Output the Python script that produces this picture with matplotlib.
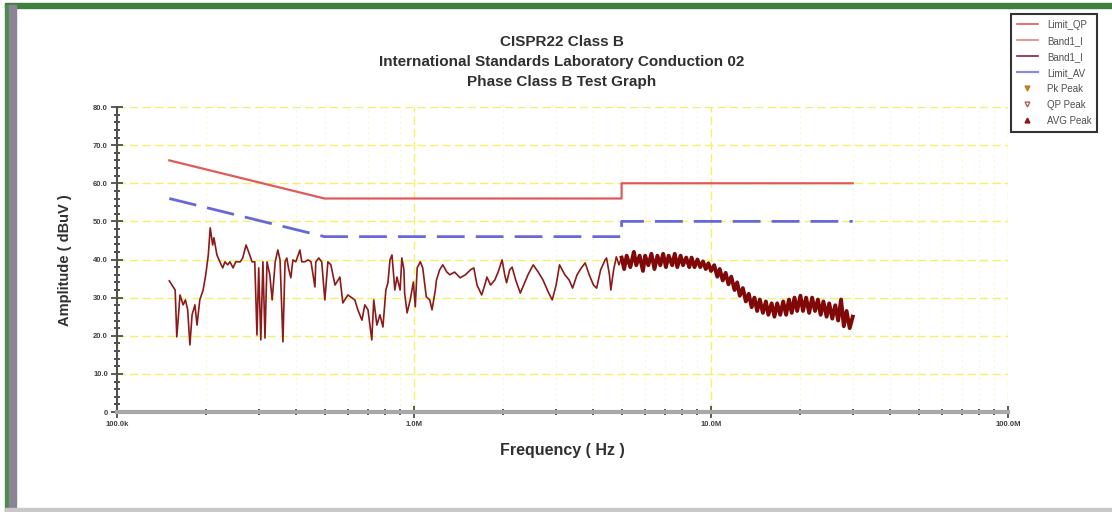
import matplotlib
matplotlib.use("Agg")
import matplotlib.pyplot as plt
from matplotlib.lines import Line2D
from matplotlib.patches import Rectangle
from matplotlib.ticker import MultipleLocator, LogLocator, NullFormatter

plt.rcParams['font.family'] = ['Liberation Sans', 'DejaVu Sans']

# limit lines (MHz, dBuV)
qp_freq = [0.15, 0.5, 5.0, 5.0, 30.0]
qp_level = [66, 56, 56, 60, 60]
av_freq = [0.15, 0.5, 5.0, 5.0, 30.0]
av_level = [56, 46, 46, 50, 50]

scan_freq = [
    0.150, 0.157, 0.159, 0.163, 0.167, 0.170, 0.173, 0.176, 0.179, 0.183,
    0.186, 0.190, 0.195, 0.199, 0.203, 0.206, 0.210, 0.212, 0.217, 0.222,
    0.227, 0.231, 0.236, 0.240, 0.246, 0.251, 0.260, 0.265, 0.272, 0.276,
    0.285, 0.291, 0.296, 0.300, 0.305, 0.310, 0.315, 0.320, 0.327, 0.333,
    0.341, 0.348, 0.354, 0.362, 0.368, 0.373, 0.379, 0.385, 0.391, 0.400,
    0.413, 0.419, 0.429, 0.440, 0.450, 0.457, 0.464, 0.467, 0.478, 0.489,
    0.501, 0.513, 0.525, 0.542, 0.563, 0.576, 0.599, 0.632, 0.647, 0.668,
    0.683, 0.700, 0.721, 0.732, 0.750, 0.768, 0.786, 0.804, 0.817, 0.830,
    0.843, 0.862, 0.876, 0.898, 0.910, 0.925, 0.930, 0.948, 0.971, 0.995,
    1.01, 1.025, 1.05, 1.07, 1.10, 1.13, 1.15, 1.18, 1.19, 1.22,
    1.25, 1.29, 1.32, 1.37, 1.43, 1.49, 1.55, 1.59, 1.63, 1.69,
    1.74, 1.76, 1.81, 1.87, 1.92, 1.98, 2.02, 2.05, 2.10, 2.14,
    2.20, 2.28, 2.34, 2.42, 2.52, 2.62, 2.72, 2.83, 2.92, 3.01,
    3.09, 3.22, 3.33, 3.42, 3.54, 3.66, 3.77, 3.89, 4.02, 4.12,
    4.25, 4.40, 4.45, 4.55, 4.60, 4.70, 4.80, 4.90,
    5.0, 5.1, 5.2, 5.35, 5.5, 5.6, 5.75, 5.9, 6.0, 6.15,
    6.3, 6.45, 6.6, 6.75, 6.9, 7.05, 7.2, 7.4, 7.55, 7.7,
    7.9, 8.05, 8.25, 8.45, 8.6, 8.8, 9.0, 9.2, 9.4, 9.6,
    9.8, 10.0, 10.25, 10.5, 10.7, 10.95, 11.2, 11.45, 11.7, 12.0,
    12.25, 12.5, 12.8, 13.1, 13.4, 13.7, 14.0, 14.3, 14.6, 14.95,
    15.3, 15.6, 16.0, 16.35, 16.7, 17.1, 17.5, 17.9, 18.3, 18.7,
    19.1, 19.5, 20.0, 20.4, 20.9, 21.4, 21.9, 22.4, 22.9, 23.4,
    23.9, 24.5, 25.0, 25.6, 26.2, 26.8, 27.4, 28.0, 28.6, 29.3,
    30.0,
]
scan_level = [
    34.4, 32.0, 19.7, 30.7, 28.1, 29.4, 26.8, 17.6, 25.5, 28.1,
    22.8, 29.4, 32.0, 36.0, 41.2, 48.3, 43.8, 45.7, 41.2, 39.4,
    37.8, 39.4, 38.6, 39.4, 37.8, 39.4, 39.4, 40.4, 43.8, 42.5,
    39.4, 39.4, 20.2, 37.8, 18.9, 39.4, 19.4, 39.4, 36.0, 29.4,
    39.4, 42.5, 39.9, 18.4, 39.4, 40.4, 37.3, 35.2, 39.9, 39.4,
    42.5, 39.4, 39.4, 39.9, 39.4, 36.0, 32.8, 39.4, 40.4, 39.4,
    29.4, 39.4, 38.6, 33.3, 35.4, 28.6, 30.7, 29.4, 26.8, 24.1,
    28.1, 26.8, 18.9, 29.4, 22.8, 25.5, 22.3, 32.0, 33.9, 39.9,
    41.2, 32.0, 35.4, 32.0, 40.4, 37.3, 31.2, 26.0, 29.4, 34.1,
    27.6, 37.8, 39.4, 37.8, 30.2, 29.4, 26.8, 32.0, 34.6, 37.3,
    38.6, 36.7, 36.0, 36.7, 35.2, 36.0, 37.3, 37.8, 33.3, 30.7,
    33.9, 35.4, 33.3, 34.6, 36.7, 39.9, 36.0, 33.9, 37.3, 38.0,
    34.6, 31.2, 33.3, 36.0, 38.6, 36.7, 34.6, 31.5, 29.4, 33.3,
    38.6, 36.0, 34.6, 32.5, 36.0, 37.8, 39.1, 36.0, 33.3, 32.5,
    37.3, 39.9, 40.4, 36.0, 32.0, 37.3, 40.7, 38.6,
    40.5, 37.5, 41.0, 38.0, 42.0, 38.5, 41.0, 37.0, 41.0, 38.5,
    41.5, 37.5, 41.0, 38.5, 41.5, 38.0, 41.0, 38.5, 41.5, 38.0,
    41.0, 38.5, 40.5, 38.0, 40.5, 38.0, 40.0, 38.0, 39.5, 37.5,
    39.0, 37.0, 38.5, 35.5, 37.5, 34.5, 36.5, 33.5, 35.5, 32.0,
    34.0, 30.5, 32.5, 29.0, 31.0, 27.5, 30.0, 26.5, 29.5, 26.0,
    29.0, 25.5, 28.5, 25.0, 28.5, 25.5, 29.0, 25.5, 29.5, 26.0,
    30.0, 26.5, 30.5, 26.5, 30.0, 26.0, 30.0, 26.5, 29.5, 25.5,
    29.0, 25.0, 28.5, 24.5, 28.0, 24.0, 29.5, 22.5, 26.5, 22.0,
    25.0,
]

x_ticks = [0.1, 1, 10, 100]
x_ticklabels = ['100.0k', '1.0M', '10.0M', '100.0M']
y_ticks = [0, 10, 20, 30, 40, 50, 60, 70, 80]
y_ticklabels = ['0', '10.0', '20.0', '30.0', '40.0', '50.0', '60.0', '70.0', '80.0']

title_lines = ['CISPR22 Class B',
               'International Standards Laboratory Conduction 02',
               'Phase Class B Test Graph']

fig = plt.figure(figsize=(11.12, 5.12), dpi=100)
fig.patch.set_facecolor('white')

# window frame
fig.patches.append(Rectangle((0.0045, 0.984), 0.996, 0.0095, transform=fig.transFigure,
                             color='#3f7f3f', zorder=0))
fig.patches.append(Rectangle((0.0045, 0.0), 0.0035, 0.99, transform=fig.transFigure,
                             color='#4f8a4f', zorder=0))
fig.patches.append(Rectangle((0.008, 0.0), 0.006, 0.99, transform=fig.transFigure,
                             color='#8a8494', zorder=0))
fig.patches.append(Rectangle((0.0045, 0.0), 0.996, 0.007, transform=fig.transFigure,
                             color='#c8c8c8', zorder=0))

ax = fig.add_axes([0.1052, 0.1953, 0.8013, 0.5957])
ax.set_xscale('log')
ax.set_xlim(0.1, 100)
ax.set_ylim(0, 80)

ax.grid(which='major', color='#f2f26a', linestyle=(0, (6, 3)), linewidth=1.0)
ax.grid(which='minor', axis='x', color='#f8f8d8', linestyle=(0, (2, 3)), linewidth=0.8)
ax.set_axisbelow(True)

ax.plot(qp_freq, qp_level, color='#e05a5a', lw=1.6, zorder=3)
ax.plot(av_freq, av_level, color='#6868d8', lw=2.0, dashes=(10, 4), zorder=3)

# low band: thin trace, above 5 MHz the scan is a dense band
split = scan_freq.index(5.0)
ax.plot(scan_freq[:split + 1], scan_level[:split + 1], color='#8b1a1a', lw=1.2, zorder=4)
ax.plot(scan_freq[split:], scan_level[split:], color='#800808', lw=2.8, zorder=4,
        solid_joinstyle='round')

for s in ['top', 'right']:
    ax.spines[s].set_visible(False)
ax.spines['bottom'].set_color('#a8a8a8')
ax.spines['bottom'].set_linewidth(3)
ax.spines['left'].set_color('#505050')
ax.spines['left'].set_linewidth(1.5)

ax.set_xticks(x_ticks)
ax.set_xticklabels(x_ticklabels)
ax.xaxis.set_minor_locator(LogLocator(base=10, subs=range(2, 10)))
ax.xaxis.set_minor_formatter(NullFormatter())
ax.set_yticks(y_ticks)
ax.set_yticklabels(y_ticklabels)
ax.yaxis.set_minor_locator(MultipleLocator(2))

ax.tick_params(axis='both', which='major', direction='inout', length=9, width=1.2,
               colors='#404040', labelsize=5.5, pad=2)
ax.tick_params(axis='both', which='minor', direction='inout', length=5, width=1.4,
               colors='#505050')
for lab in ax.get_xticklabels() + ax.get_yticklabels():
    lab.set_fontweight('bold')

for i, line in enumerate(title_lines):
    fig.text(0.505, 1 - (42 + 20 * i) / 512, line, ha='center', va='center',
             fontsize=11, fontweight='bold', color='#303030')

fig.text(65 / 1112, 1 - 260 / 512, 'Amplitude ( dBuV )', rotation=90, ha='center',
         va='center', fontsize=10.5, fontweight='bold', color='#303030')
fig.text(562 / 1112, 1 - 450 / 512, 'Frequency ( Hz )', ha='center', va='center',
         fontsize=11.5, fontweight='bold', color='#303030')

handles = [
    Line2D([], [], color='#e05a5a', lw=1.2),
    Line2D([], [], color='#d88a8a', lw=1.2),
    Line2D([], [], color='#8b2040', lw=1.2),
    Line2D([], [], color='#8a8ae0', lw=1.6),
    Line2D([], [], color='#c08020', marker='v', ls='none', markersize=3.5),
    Line2D([], [], color='#b06060', marker='v', ls='none', markersize=3.5, fillstyle='none'),
    Line2D([], [], color='#901818', marker='^', ls='none', markersize=3.5),
]
labels = ['Limit_QP', 'Band1_I', 'Band1_I', 'Limit_AV', 'Pk Peak', 'QP Peak', 'AVG Peak']
leg = fig.legend(handles, labels, loc='upper left', bbox_to_anchor=(1006 / 1112, 1 - 9 / 512),
                 fontsize=7, frameon=True, fancybox=False, edgecolor='black',
                 handlelength=2.2, handletextpad=0.9, labelspacing=0.62, borderpad=0.6,
                 labelcolor='#505050')
leg.get_frame().set_linewidth(1.5)

fig.savefig('out.png', dpi=100)
